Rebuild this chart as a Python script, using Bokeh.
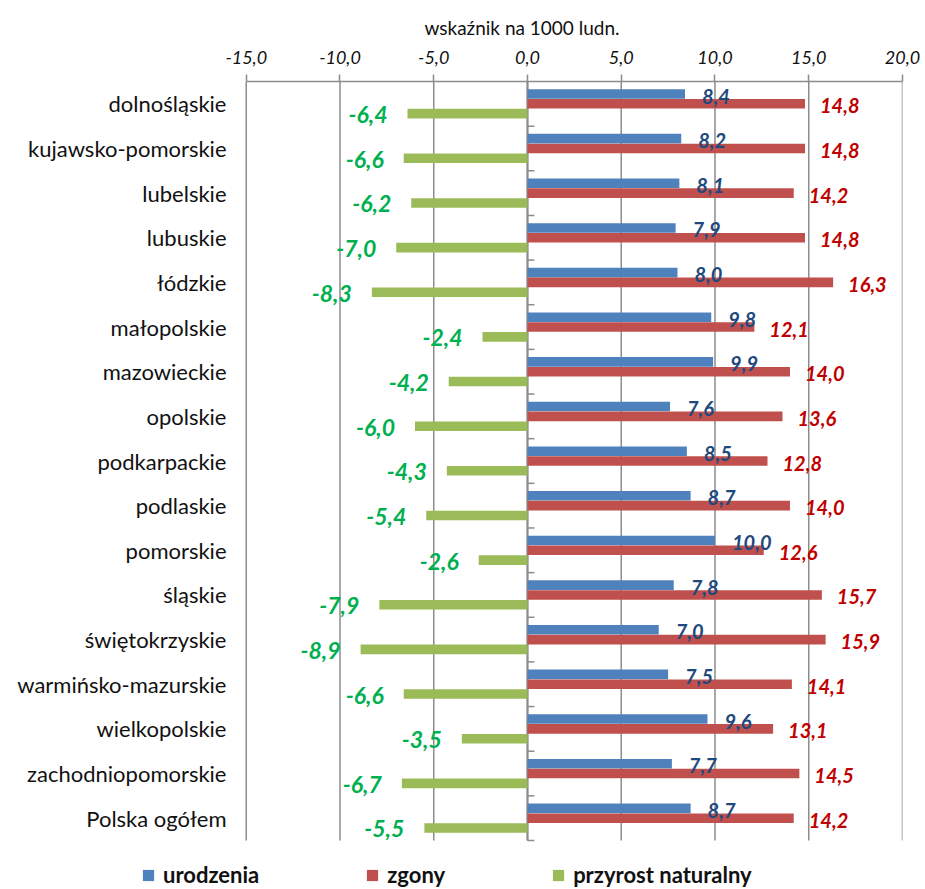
from bokeh.plotting import figure
from bokeh.models import (ColumnDataSource, Range1d, FixedTicker,
                          CustomJSTickFormatter, Legend, LegendItem)
from bokeh.transform import dodge
from bokeh.core.properties import value
from bokeh.embed import file_html
from bokeh.resources import INLINE

categories = ["dolnośląskie", "kujawsko-pomorskie", "lubelskie", "lubuskie", "łódzkie",
              "małopolskie", "mazowieckie", "opolskie", "podkarpackie", "podlaskie",
              "pomorskie", "śląskie", "świętokrzyskie", "warmińsko-mazurskie",
              "wielkopolskie", "zachodniopomorskie", "Polska ogółem"]
urodzenia = [8.4, 8.2, 8.1, 7.9, 8.0, 9.8, 9.9, 7.6, 8.5, 8.7, 10.0, 7.8, 7.0, 7.5, 9.6, 7.7, 8.7]
zgony = [14.8, 14.8, 14.2, 14.8, 16.3, 12.1, 14.0, 13.6, 12.8, 14.0, 12.6, 15.7, 15.9, 14.1, 13.1, 14.5, 14.2]
przyrost = [-6.4, -6.6, -6.2, -7.0, -8.3, -2.4, -4.2, -6.0, -4.3, -5.4, -2.6, -7.9, -8.9, -6.6, -3.5, -6.7, -5.5]
x_ticks = [-15, -10, -5, 0, 5, 10, 15, 20]
series_names = ["urodzenia", "zgony", "przyrost naturalny"]
colors = ["#4F81BD", "#C0504D", "#9BBB59"]

def fmt(v):
    return f"{v:.1f}".replace(".", ",")

n = len(categories)
pos = [n - 1 - i for i in range(n)]   # first category at the top

src = ColumnDataSource(dict(
    cat=categories, pos=pos, u=urodzenia, z=zgony, p=przyrost,
    u_lbl=[fmt(v) for v in urodzenia],
    z_lbl=[fmt(v) for v in zgony],
    p_lbl=[fmt(v) for v in przyrost],
))

# layout: frame starts where the legend starts and runs to the page bottom,
# the value axis itself spans -15..20 and the categories the upper 759 px
x_lo, x_hi = x_ticks[0], x_ticks[-1]
px_per_unit = 656 / (x_hi - x_lo)
x_start = x_lo - 104.7 / px_per_unit
band_px = 759 / n
y_top = n - 0.5
y_bottom = -0.5
y_start = y_bottom - 48 / band_px

p = figure(width=923, height=888, output_backend="svg", toolbar_location=None,
           x_range=Range1d(x_start, x_hi), y_range=Range1d(y_start, y_top),
           x_axis_location="above",
           min_border_left=141, min_border_right=21, min_border_top=81, min_border_bottom=0)
p.outline_line_color = None
p.grid.grid_line_color = None

# vertical grid lines over the category area only
p.segment(x0=x_ticks, x1=x_ticks, y0=[y_bottom] * len(x_ticks), y1=[y_top] * len(x_ticks),
          line_color="#8c8c8c", line_width=1.5)

xa = p.xaxis[0]
xa.bounds = (x_lo, x_hi)
xa.ticker = FixedTicker(ticks=x_ticks)
xa.formatter = CustomJSTickFormatter(code="return tick.toFixed(1).replace('.', ',');")
xa.axis_label = "wskaźnik na 1000 ludn."
xa.axis_label_text_font = "Lato"
xa.axis_label_text_font_style = "normal"
xa.axis_label_text_font_size = "19px"
xa.axis_label_text_color = "#111111"
xa.axis_label_standoff = 9
xa.major_label_text_font = "Lato"
xa.major_label_text_font_style = "italic"
xa.major_label_text_font_size = "18px"
xa.major_label_text_color = "#111111"
xa.major_label_standoff = 11
xa.axis_line_color = "#8c8c8c"
xa.axis_line_width = 1.5
xa.major_tick_line_color = "#8c8c8c"
xa.major_tick_line_width = 1.5
xa.major_tick_out = 7
xa.major_tick_in = 0
xa.minor_tick_line_color = None

ya = p.yaxis[0]
ya.ticker = FixedTicker(ticks=pos)
ya.major_label_overrides = {pv: c for pv, c in zip(pos, categories)}
ya.axis_line_color = None
ya.major_tick_line_color = None
ya.minor_tick_line_color = None
ya.major_label_text_font = "Lato"
ya.major_label_text_font_size = "22px"
ya.major_label_text_color = "#111111"
ya.major_label_standoff = -91

# vertical axis at zero with category separators
p.segment(x0=[0], x1=[0], y0=[y_bottom], y1=[y_top], line_color="#8c8c8c", line_width=2)
p.segment(x0=0, x1=0.37, y0=dodge("pos", -0.5), y1=dodge("pos", -0.5), source=src,
          line_color="#8c8c8c", line_width=1.5)

h = 0.215
r_u = p.hbar(y=dodge("pos", 0.22), right="u", left=0, height=h,
             source=src, fill_color=colors[0], line_color=None)
r_z = p.hbar(y=dodge("pos", 0.0), right="z", left=0, height=h,
             source=src, fill_color=colors[1], line_color=None)
r_p = p.hbar(y=dodge("pos", -0.22), right="p", left=0, height=h,
             source=src, fill_color=colors[2], line_color=None)

p.text(x="u", y=dodge("pos", 0.22), text="u_lbl", source=src,
       x_offset=17, y_offset=2, text_align="left", text_baseline="middle",
       text_font=value("Lato"), text_font_style="bold italic", text_font_size="20px",
       text_color="#1F497D")
p.text(x="z", y=dodge("pos", 0.0), text="z_lbl", source=src,
       x_offset=15, y_offset=2, text_align="left", text_baseline="middle",
       text_font=value("Lato"), text_font_style="bold italic", text_font_size="20px",
       text_color="#C00000")
p.text(x="p", y=dodge("pos", -0.22), text="p_lbl", source=src,
       x_offset=-20, y_offset=1, text_align="right", text_baseline="middle",
       text_font=value("Lato"), text_font_style="bold italic", text_font_size="23px",
       text_color="#00B050")

legend = Legend(items=[LegendItem(label=series_names[0], renderers=[r_u]),
                       LegendItem(label=series_names[1], renderers=[r_z]),
                       LegendItem(label=series_names[2], renderers=[r_p])],
                orientation="horizontal", location=(0, 0),
                glyph_width=14, glyph_height=14, label_standoff=8, spacing=106,
                padding=0, margin=0, border_line_color=None, background_fill_alpha=0,
                label_text_font="Lato", label_text_font_style="bold",
                label_text_font_size="22px", label_text_color="#111111")
p.add_layout(legend, "center")

open("out.html", "w").write(file_html(p, INLINE))
